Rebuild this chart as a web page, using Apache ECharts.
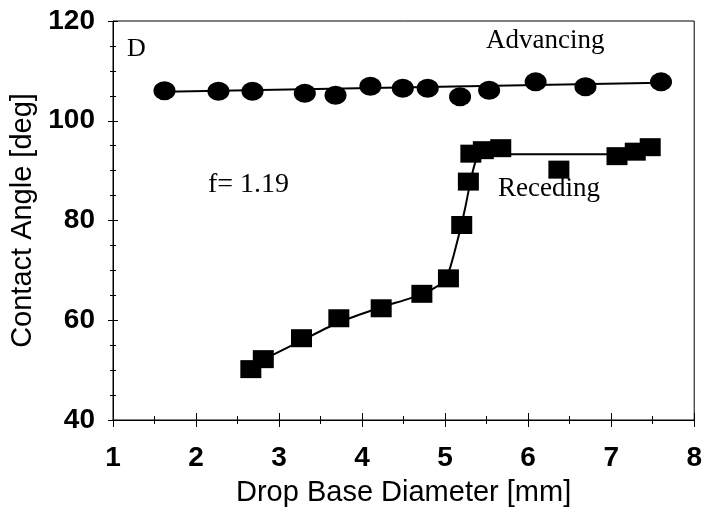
<!DOCTYPE html>
<html>
<head>
<meta charset="utf-8">
<script src="https://cdn.jsdelivr.net/npm/echarts@6/dist/echarts.min.js"></script>
<style>
  html, body { margin: 0; padding: 0; background: #fff; }
  #chart { width: 705px; height: 518px; }
</style>
</head>
<body>
<div id="chart"></div>
<script>
// advancing contact angle points
const advX = [1.62, 2.27, 2.68, 3.31, 3.68, 4.10, 4.49, 4.79, 5.18, 5.53, 6.09, 6.69, 7.60];
const advY = [106.0, 105.9, 105.9, 105.5, 105.1, 106.9, 106.5, 106.5, 104.8, 106.1, 107.8, 106.8, 107.8];
// trend line through advancing points
const advFitX = [1.62, 7.60];
const advFitY = [105.8, 107.6];

// receding contact angle points
const recX = [2.66, 2.81, 3.27, 3.72, 4.23, 4.72, 5.04, 5.20, 5.28, 5.31, 5.46, 5.67, 6.37, 7.07, 7.29, 7.47];
const recY = [50.2, 52.2, 56.4, 60.4, 62.4, 65.3, 68.4, 79.1, 87.8, 93.4, 94.1, 94.5, 90.2, 92.9, 93.8, 94.7];
// fitted curve through receding points
const recFitX = [2.75, 3.27, 3.72, 4.23, 4.72, 4.95, 5.05, 5.16, 5.24, 5.30, 5.36, 5.42, 7.10];
const recFitY = [51.6, 55.9, 59.6, 62.6, 65.2, 67.3, 70.0, 76.7, 82.4, 87.4, 91.5, 93.3, 93.3];

const xTicks = [1, 2, 3, 4, 5, 6, 7, 8];
const yTicks = [40, 60, 80, 100, 120];

const zip = (xs, ys) => xs.map((x, i) => [x, ys[i]]);

const chart = echarts.init(document.getElementById('chart'));

const sans = 'Liberation Sans';
const serif = 'Liberation Serif';

const baseX = {
  type: 'value',
  min: xTicks[0],
  max: xTicks[xTicks.length - 1],
  interval: 1,
  splitLine: { show: false },
  axisLine: { lineStyle: { color: '#000', width: 1 } }
};
const baseY = {
  type: 'value',
  min: yTicks[0],
  max: yTicks[yTicks.length - 1],
  interval: 20,
  splitLine: { show: false },
  axisLine: { lineStyle: { color: '#000', width: 1 } }
};

const option = {
  animation: false,
  backgroundColor: '#fff',
  grid: {
    left: 110,
    right: 3,
    top: 21,
    bottom: 98,
    show: true,
    borderColor: '#000',
    borderWidth: 1
  },
  xAxis: [
    Object.assign({}, baseX, {
      name: 'Drop Base Diameter [mm]',
      nameLocation: 'middle',
      nameGap: 58,
      nameTextStyle: { fontFamily: sans, fontSize: 29, color: '#000' },
      axisTick: { length: 7, lineStyle: { color: '#000' } },
      minorTick: { show: true, splitNumber: 2, length: 4, lineStyle: { color: '#000' } },
      axisLabel: {
        fontFamily: sans, fontSize: 28, fontWeight: 'bold', color: '#000', margin: 24,
        formatter: (v) => (xTicks.indexOf(v) >= 0 ? String(v) : '')
      }
    }),
    Object.assign({}, baseX, {
      position: 'bottom',
      axisLine: { show: false },
      axisLabel: { show: false },
      axisTick: { inside: true, length: 7, lineStyle: { color: '#000' } },
      minorTick: { show: true, splitNumber: 2, length: 4, lineStyle: { color: '#000' } }
    })
  ],
  yAxis: [
    Object.assign({}, baseY, {
      name: 'Contact Angle [deg]',
      nameLocation: 'middle',
      nameGap: 76,
      nameTextStyle: { fontFamily: sans, fontSize: 29, color: '#000' },
      axisTick: { length: 5, lineStyle: { color: '#000' } },
      minorTick: { show: true, splitNumber: 4, length: 3, lineStyle: { color: '#000' } },
      axisLabel: {
        fontFamily: sans, fontSize: 28, fontWeight: 'bold', color: '#000', margin: 18,
        formatter: (v) => (yTicks.indexOf(v) >= 0 ? String(v) : '')
      }
    }),
    Object.assign({}, baseY, {
      position: 'left',
      axisLine: { show: false },
      axisLabel: { show: false },
      axisTick: { inside: true, length: 5, lineStyle: { color: '#000' } },
      minorTick: { show: true, splitNumber: 4, length: 3, lineStyle: { color: '#000' } }
    })
  ],
  series: [
    {
      name: 'Advancing fit',
      type: 'line',
      data: zip(advFitX, advFitY),
      symbol: 'none',
      lineStyle: { color: '#000', width: 2 },
      z: 1
    },
    {
      name: 'Receding fit',
      type: 'line',
      data: zip(recFitX, recFitY),
      symbol: 'none',
      smooth: 0.2,
      lineStyle: { color: '#000', width: 2 },
      z: 1
    },
    {
      name: 'Advancing',
      type: 'scatter',
      data: zip(advX, advY),
      symbol: 'circle',
      symbolSize: [22, 19],
      itemStyle: { color: '#000', opacity: 1 },
      z: 3
    },
    {
      name: 'Receding',
      type: 'scatter',
      data: zip(recX, recY),
      symbol: 'rect',
      symbolSize: [21, 18],
      itemStyle: { color: '#000', opacity: 1 },
      z: 3
    }
  ],
  graphic: [
    { type: 'text', left: 127, top: 36, style: { text: 'D', fontFamily: serif, fontSize: 26, fill: '#000' } },
    { type: 'text', left: 486, top: 27, style: { text: 'Advancing', fontFamily: serif, fontSize: 27, fill: '#000' } },
    { type: 'text', left: 498, top: 175, style: { text: 'Receding', fontFamily: serif, fontSize: 27, fill: '#000' } },
    { type: 'text', left: 208, top: 171, style: { text: 'f= 1.19', fontFamily: serif, fontSize: 28, fill: '#000' } }
  ]
};

chart.setOption(option);
</script>
</body>
</html>
